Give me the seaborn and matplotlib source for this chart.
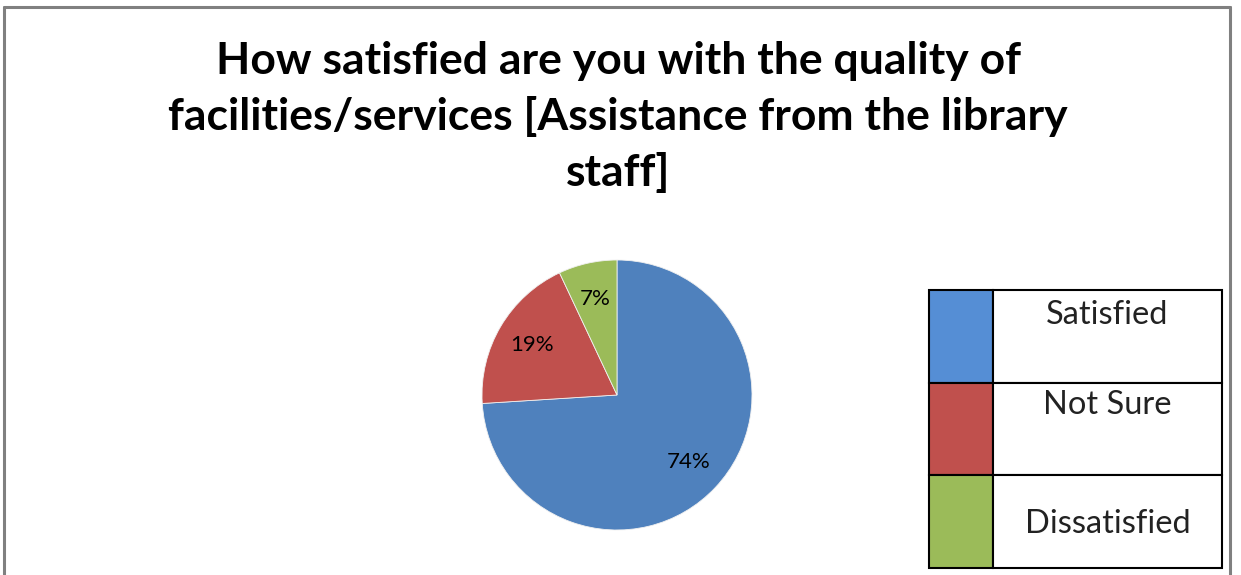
import matplotlib
matplotlib.use("Agg")
import matplotlib.pyplot as plt
from matplotlib.patches import Rectangle
import seaborn as sns

# ---- data ----
categories = ["Satisfied", "Not Sure", "Dissatisfied"]
values = [74, 19, 7]
title = "How satisfied are you with the quality of\nfacilities/services [Assistance from the library\nstaff]"

sns.set_theme(style="white")
plt.rcParams['font.family'] = ['Lato', 'DejaVu Sans']

pie_colors = ["#4F81BD", "#C0504D", "#9BBB59"]
legend_colors = ["#558ED5", "#C0504D", "#9BBB59"]

W, H = 1241, 575
fig = plt.figure(figsize=(W / 100, H / 100), dpi=100)
fig.patch.set_facecolor("white")

def px(x, y):
    return x / W, 1 - y / H

# outer border (gray)
border_kw = dict(color="#808080", lw=2.2, transform=fig.transFigure)
fig.add_artist(plt.Line2D([4 / W, 4 / W], [0, 1 - 7 / H], **border_kw))
fig.add_artist(plt.Line2D([4 / W, 1230 / W], [1 - 7 / H, 1 - 7 / H], **border_kw))
fig.add_artist(plt.Line2D([1230 / W, 1230 / W], [0, 1 - 7 / H], **border_kw))

# title
fig.text(618 / W, 1 - 117 / H, title, ha="center", va="center",
         fontsize=32, fontweight="bold", color="black", linespacing=1.45)

# pie
cx, cy, r = 617, 395, 135
ax = fig.add_axes([(cx - r) / W, (H - cy - r) / H, 2 * r / W, 2 * r / H])
wedges, texts, autotexts = ax.pie(
    values, colors=pie_colors, startangle=90, counterclock=False,
    autopct=lambda p: f"{p:.0f}%", pctdistance=0.73,
    wedgeprops=dict(linewidth=0.6, edgecolor="#f0f0f0"),
    textprops=dict(fontsize=16, color="black"))
ax.set_xlim(-1, 1)
ax.set_ylim(-1, 1)
ax.set_aspect("equal")
ax.axis("off")

# legend table
lx0, lx1, lxc = 929, 1222, 993
ly0, ly1 = 290, 568
n = len(categories)
rowh = (ly1 - ly0) / n
text_offsets = [25, 22, 49]
for i, (cat, col) in enumerate(zip(categories, legend_colors)):
    top = ly0 + i * rowh
    fig.add_artist(Rectangle(px(lx0, top + rowh), (lxc - lx0) / W, rowh / H,
                             transform=fig.transFigure, facecolor=col,
                             edgecolor="black", lw=1.5))
    fig.add_artist(Rectangle(px(lxc, top + rowh), (lx1 - lxc) / W, rowh / H,
                             transform=fig.transFigure, facecolor="white",
                             edgecolor="black", lw=1.5))
    tx, ty = px((lxc + lx1) / 2, top + text_offsets[i])
    fig.text(tx, ty, cat, ha="center", va="center", fontsize=23.5, color="#222222")

fig.savefig("out.png", dpi=100, facecolor="white")
